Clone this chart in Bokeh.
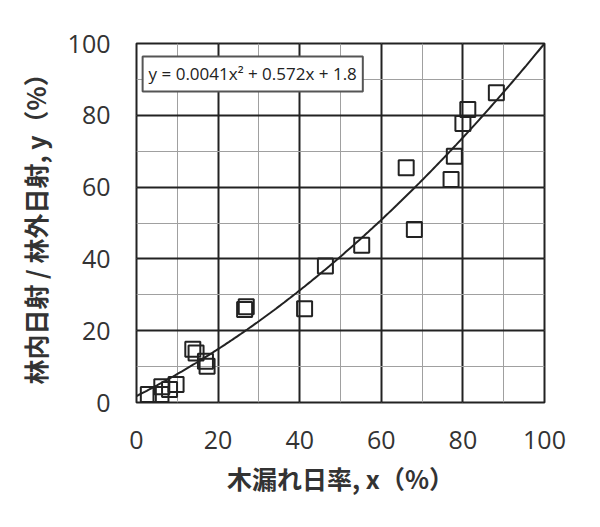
from bokeh.plotting import figure
from bokeh.models import Label, SingleIntervalTicker, ColumnDataSource
from bokeh.embed import file_html
from bokeh.resources import INLINE
import numpy as np

# Data
x_vals = [2.9, 6.0, 6.2, 8.1, 9.7, 13.8, 14.6, 16.9, 17.3, 26.5, 26.9, 41.2,
          46.3, 55.2, 66.1, 68.1, 77.1, 77.9, 80.0, 81.2, 88.2]
y_vals = [2.2, 2.2, 4.4, 3.6, 5.0, 14.8, 13.8, 11.5, 10.1, 25.9, 26.7, 26.1,
          38.0, 43.8, 65.4, 48.2, 62.1, 68.6, 77.7, 81.6, 86.3]

# Trendline coefficients (y = a x^2 + b x + c)
coef_a = 0.0041
coef_b = 0.572
coef_c = 1.8
trend_x_range = [0, 100]

equation_text = "y = 0.0041x² + 0.572x + 1.8"
x_label = "木漏れ日率, x（%）"
y_label = "林内日射 / 林外日射, y（%）"

tx = np.linspace(trend_x_range[0], trend_x_range[1], 200)
ty = coef_a * tx ** 2 + coef_b * tx + coef_c

p = figure(width=592, height=519, x_range=(0, 100), y_range=(0, 100),
           output_backend="svg", toolbar_location=None,
           min_border_left=136, min_border_top=43, min_border_right=48,
           min_border_bottom=117)

dark = "#222222"
p.background_fill_color = "white"
p.border_fill_color = "white"
p.outline_line_color = dark
p.outline_line_width = 2

for ax in (p.xaxis[0], p.yaxis[0]):
    ax.ticker = SingleIntervalTicker(interval=20, num_minor_ticks=2)
    ax.axis_line_color = None
    ax.major_tick_out = 0
    ax.major_tick_in = 0
    ax.minor_tick_out = 0
    ax.minor_tick_in = 0
    ax.major_label_text_font = "Open Sans"
    ax.major_label_text_font_size = "25px"
    ax.major_label_text_color = "#333333"
    ax.axis_label_text_font = "Noto Sans CJK JP"
    ax.axis_label_text_font_size = "25px"
    ax.axis_label_text_font_style = "bold"
    ax.axis_label_text_color = "#333333"

p.xaxis.axis_label = x_label
p.yaxis.axis_label = y_label
p.xaxis.major_label_standoff = 28
p.yaxis.major_label_standoff = 26
p.xaxis.axis_label_standoff = 8
p.yaxis.axis_label_standoff = 12

for g in (p.xgrid[0], p.ygrid[0]):
    g.ticker = SingleIntervalTicker(interval=20, num_minor_ticks=2)
    g.grid_line_color = dark
    g.grid_line_width = 2
    g.minor_grid_line_color = "#a0a0a0"
    g.minor_grid_line_width = 1

p.line(tx, ty, line_color=dark, line_width=2)

src = ColumnDataSource(dict(x=x_vals, y=y_vals))
p.scatter("x", "y", source=src, marker="square", size=15,
          fill_color=None, line_color=dark, line_width=2)

eq = Label(x=1.5, y=96.4, text=equation_text, text_baseline="top",
           text_font="Open Sans", text_font_size="17px", text_color=dark,
           background_fill_color="white", border_line_color="#555555",
           border_line_width=2, padding=6)
p.add_layout(eq)

open("out.html", "w").write(file_html(p, INLINE))
